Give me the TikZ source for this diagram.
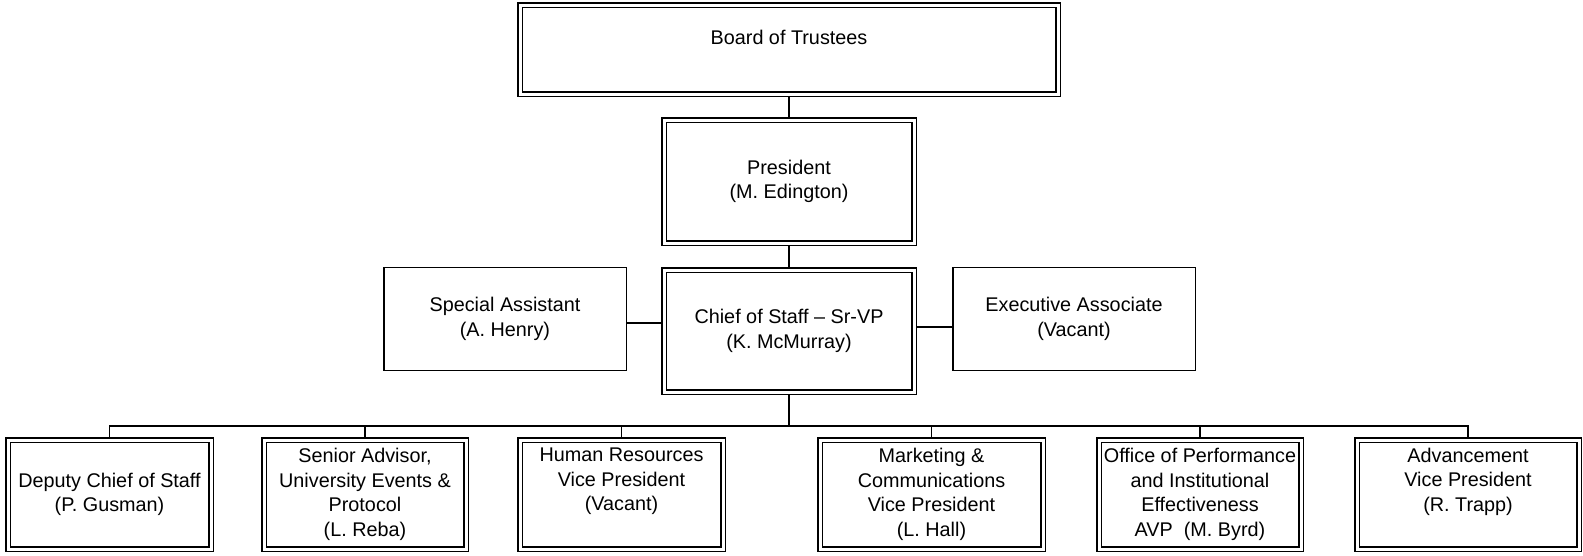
\documentclass[tikz,border=0pt]{standalone}
\usepackage{fontspec}
\setmainfont{Liberation Sans}
\usetikzlibrary{backgrounds}
\begin{document}
\begin{tikzpicture}[x=1pt,y=-1pt,
  dbox/.style={draw=black, line width=1.5pt, double=white, double distance=3pt,
    fill=white, inner sep=0pt, align=center,
    minimum width=#1, font=\fontsize{19.8}{24.6}\selectfont},
  sbox/.style={draw=black, line width=1.5pt, fill=white, inner sep=0pt,
    align=center, minimum width=#1, minimum height=103pt,
    font=\fontsize{19.8}{24.6}\selectfont},
  txt/.style={align=center, inner sep=0pt, font=\fontsize{19.8}{24.6}\selectfont},
  link/.style={draw=black, line width=1.5pt},
  trunk/.style={draw=black, line width=2.6pt},
  row/.style={dbox=#1, minimum height=109pt}
]
\useasboundingbox (0,0) rectangle (1583,555);

% top of the chart
\node[dbox=538pt, minimum height=89pt,
  label={[txt, yshift=12.5pt]center:Board of Trustees}] (board) at (789,49.5) {};
\node[dbox=250pt, minimum height=123pt] (pres) at (789,181.5) {President\\(M. Edington)};
\node[dbox=250pt, minimum height=122pt] (chief) at (789,331) {Chief of Staff -- Sr-VP\\(K. McMurray)};
\node[sbox=242.5pt] (spec) at (505,319) {Special Assistant\\(A. Henry)};
\node[sbox=242.5pt] (exec) at (1074,319) {Executive Associate\\(Vacant)};

% direct reports
\node[row=203pt] (dep) at (109.5,494.5) {Deputy Chief of Staff\\(P. Gusman)};
\node[row=202pt] (sen) at (365,494.5) {Senior Advisor,\\University Events \&\\Protocol\\(L. Reba)};
\node[row=203pt, label={[txt, yshift=13pt]center:Human Resources\\Vice President\\(Vacant)}] (hr) at (621.5,494.5) {};
\node[row=223pt] (mkt) at (931.5,494.5) {Marketing \&\\Communications\\Vice President\\(L. Hall)};
\node[row=202pt] (opie) at (1200,494.5) {Office of Performance\\and Institutional\\Effectiveness\\AVP~~(M. Byrd)};
\node[row=222pt, label={[txt, yshift=13pt]center:Advancement\\Vice President\\(R. Trapp)}] (adv) at (1468,494.5) {};

\coordinate (bus) at (789,426);

\begin{scope}[on background layer]
  \draw[link] (board.center) -- (pres.center);
  \draw[link] (pres.center) -- (chief.center);
  \draw[link] ([yshift=-4pt]spec.east) -- ([yshift=-4pt]spec.east -| chief.center);
  \draw[link] ([yshift=-8pt]exec.west) -- ([yshift=-8pt]exec.west -| chief.center);
  \draw[trunk] (chief.center) -- (bus);
  \draw[link] (dep.center) -- (dep.center |- bus) -- (adv.center |- bus) -- (adv.center);
  \foreach \n in {sen,hr,mkt,opie}
    \draw[link] (\n.center |- bus) -- (\n.center);
\end{scope}
\end{tikzpicture}
\end{document}
